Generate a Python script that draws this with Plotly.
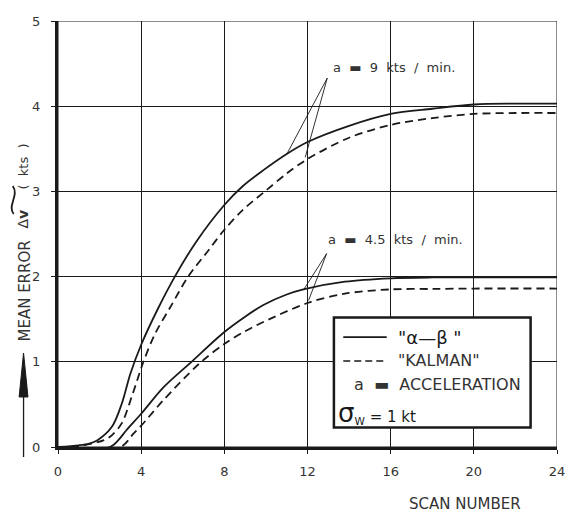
import plotly.graph_objects as go

# ---------------- data ----------------
ab9_x = [0, 1, 1.5, 1.9, 2.6, 3.07, 3.48, 4, 4.8, 5.62, 6.65, 8, 8.88, 9.88, 11, 12, 14, 16, 18, 20, 22, 24]
ab9_y = [0, 0.02, 0.04, 0.08, 0.24, 0.51, 0.86, 1.2, 1.62, 2.0, 2.41, 2.84, 3.06, 3.25, 3.44, 3.58, 3.77, 3.91, 3.97, 4.02, 4.03, 4.03]

kal9_x = [0, 1, 2.21, 2.6, 3.07, 3.6, 4.11, 4.67, 5.4, 6.26, 7.24, 8, 8.88, 10, 11, 12, 14, 16, 18, 20, 22, 24]
kal9_y = [0, 0.01, 0.08, 0.14, 0.28, 0.63, 1.0, 1.33, 1.64, 2.0, 2.31, 2.55, 2.78, 3.01, 3.21, 3.38, 3.63, 3.78, 3.86, 3.91, 3.92, 3.92]

ab45_x = [0, 2.5, 2.9, 3.3, 4, 5.07, 6.42, 8, 9, 9.9, 11, 11.8, 13.8, 16, 18, 20, 24]
ab45_y = [0, 0, 0.08, 0.2, 0.39, 0.7, 1.0, 1.35, 1.53, 1.67, 1.79, 1.85, 1.94, 1.98, 1.99, 1.99, 1.99]

kal45_x = [0, 3.0, 3.64, 4, 5.07, 6.8, 8, 8.97, 9.9, 12, 13.8, 16, 18, 20, 24]
kal45_y = [0, 0, 0.16, 0.25, 0.55, 0.98, 1.21, 1.355, 1.47, 1.69, 1.80, 1.85, 1.855, 1.86, 1.86]

x_ticks = [0, 4, 8, 12, 16, 20, 24]
y_ticks = [0, 1, 2, 3, 4, 5]

FONT = "DejaVu Sans"
INK = "#1a1a1a"
TXT = "#333333"

W, H = 572, 516
L, R, T, B = 58, 7, 21, 69
PW, PH = W - L - R, H - T - B


def px(xp):  # pixel -> paper x
    return (xp - L) / PW


def py(yp):  # pixel -> paper y
    return (H - B - yp) / PH


fig = go.Figure()


def add_curve(xs, ys, name, dash):
    fig.add_trace(go.Scatter(
        x=xs, y=ys, mode="lines", name=name, showlegend=False,
        line=dict(color=INK, width=1.8, dash=dash, shape="spline", smoothing=0.9),
        hoverinfo="x+y+name"))


add_curve(ab9_x, ab9_y, "α-β, a = 9 kts/min", "solid")
add_curve(kal9_x, kal9_y, "Kalman, a = 9 kts/min", "8px,5px")
add_curve(ab45_x, ab45_y, "α-β, a = 4.5 kts/min", "solid")
add_curve(kal45_x, kal45_y, "Kalman, a = 4.5 kts/min", "8px,5px")

shapes = []
# thin frame top/right
shapes.append(dict(type="rect", xref="x", yref="y", x0=0, x1=24, y0=0, y1=5,
                   line=dict(color=INK, width=1), layer="below"))
# pointer lines from the labels to the curves
for (ax_, ay_, pts) in [(12.95, 4.33, [(11.01, 3.44), (11.89, 3.40)]),
                        (12.92, 2.27, [(11.8, 1.84), (12.05, 1.72)])]:
    for (qx, qy) in pts:
        shapes.append(dict(type="line", xref="x", yref="y", x0=ax_, y0=ay_, x1=qx, y1=qy,
                           line=dict(color=INK, width=0.9)))
# legend box
shapes.append(dict(type="rect", xref="x", yref="y", x0=13.27, x1=22.73, y0=0.23, y1=1.52,
                   line=dict(color=INK, width=2.5), fillcolor="white"))
shapes.append(dict(type="line", xref="x", yref="y", x0=13.72, x1=15.81, y0=1.29, y1=1.29,
                   line=dict(color=INK, width=1.6)))
shapes.append(dict(type="line", xref="x", yref="y", x0=13.72, x1=15.81, y0=1.01, y1=1.01,
                   line=dict(color=INK, width=1.6, dash="7px,4px")))
# y-axis arrow (shaft + narrow filled head)
shapes.append(dict(type="line", xref="paper", yref="paper", x0=px(23), x1=px(23), y0=py(457), y1=py(392),
                   line=dict(color=INK, width=1.3)))
shapes.append(dict(type="path", xref="paper", yref="paper",
                   path=f"M {px(23)} {py(353)} L {px(18.5)} {py(397)} L {px(27.5)} {py(397)} Z",
                   fillcolor=INK, line=dict(color=INK, width=1)))
# tilde over the "Δv" of the rotated axis title
shapes.append(dict(type="path", xref="paper", yref="paper",
                   path=(f"M {px(13)} {py(214)} C {px(6)} {py(206)} {px(19)} {py(195)} {px(12)} {py(186)}"),
                   line=dict(color=INK, width=1.8)))

annotations = [
    dict(x=16.14, y=4.46, xref="x", yref="y", text="a  ▬  9  kts  /  min.", showarrow=False,
         font=dict(family=FONT, size=13, color=TXT)),
    dict(x=16.23, y=2.43, xref="x", yref="y", text="a  ▬  4.5  kts  /  min.", showarrow=False,
         font=dict(family=FONT, size=13, color=TXT)),
    dict(x=16.28, y=1.29, xref="x", yref="y", text="\"α—β \"", showarrow=False, xanchor="left",
         font=dict(family=FONT, size=18, color=INK)),
    dict(x=16.28, y=1.01, xref="x", yref="y", text="\"KALMAN\"", showarrow=False, xanchor="left",
         font=dict(family=FONT, size=16, color=TXT)),
    dict(x=14.15, y=0.73, xref="x", yref="y", text="a  ▬  ACCELERATION", showarrow=False, xanchor="left",
         font=dict(family=FONT, size=16, color=TXT)),
    dict(x=13.35, y=0.40, xref="x", yref="y",
         text="<span style='font-size:26px'>σ</span><sub>W</sub> = 1 kt", showarrow=False,
         xanchor="left", font=dict(family=FONT, size=15, color=INK)),
    dict(x=px(472), y=py(504), xref="paper", yref="paper", text="SCAN NUMBER", showarrow=False,
         xanchor="center", yanchor="middle", font=dict(family=FONT, size=15, color=TXT)),
    dict(x=px(24), y=py(291), xref="paper", yref="paper", text="MEAN ERROR",
         xanchor="center", yanchor="middle",
         textangle=-90, showarrow=False, font=dict(family=FONT, size=15, color=TXT)),
    dict(x=px(22), y=py(219), xref="paper", yref="paper", text="Δ<b>v</b>",
         xanchor="center", yanchor="middle",
         textangle=-90, showarrow=False, font=dict(family=FONT, size=14, color=TXT)),
    dict(x=px(23), y=py(167), xref="paper", yref="paper", text="(  kts  )",
         xanchor="center", yanchor="middle",
         textangle=-90, showarrow=False, font=dict(family=FONT, size=13, color=TXT)),
]

fig.update_layout(
    width=W, height=H,
    margin=dict(l=L, r=R, t=T, b=B),
    paper_bgcolor="white", plot_bgcolor="white",
    shapes=shapes, annotations=annotations,
    showlegend=False,
    font=dict(family=FONT, color=TXT),
)
fig.update_xaxes(range=[0, 24], tickvals=x_ticks, ticktext=[str(v) for v in x_ticks],
                 showgrid=True, gridcolor=INK, gridwidth=1, zeroline=False,
                 showline=True, linecolor=INK, linewidth=3,
                 ticks="outside", ticklen=4, tickcolor=INK, tickwidth=1,
                 ticklabelstandoff=6, ticklabeloverflow="allow",
                 tickfont=dict(family=FONT, size=13, color=TXT))
fig.update_yaxes(range=[0, 5], tickvals=y_ticks, ticktext=["\u200b" + str(v) for v in y_ticks],
                 showgrid=True, gridcolor=INK, gridwidth=1, zeroline=False,
                 showline=True, linecolor=INK, linewidth=3,
                 ticks="outside", ticklen=4, tickcolor=INK, tickwidth=1,
                 ticklabelstandoff=8, ticklabeloverflow="allow",
                 tickfont=dict(family=FONT, size=13, color=TXT))

fig.write_html("out.html")
